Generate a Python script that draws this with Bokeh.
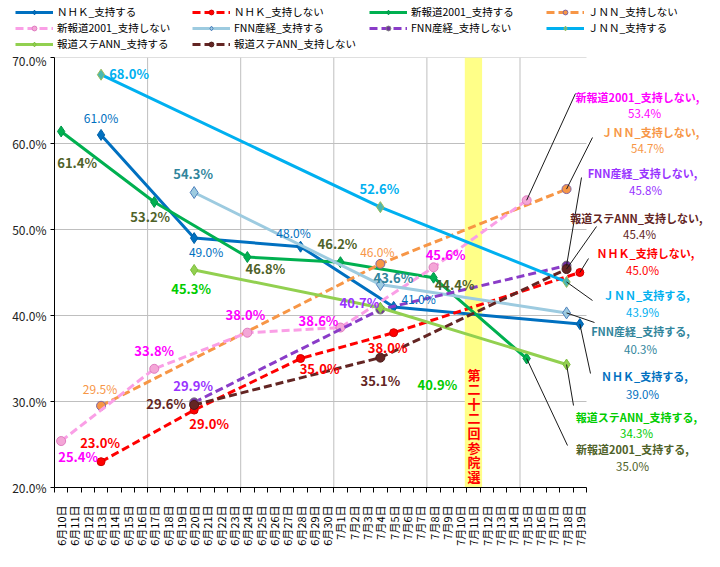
import math
from bokeh.plotting import figure
from bokeh.layouts import column
from bokeh.models import (Range1d, FixedTicker, PrintfTickFormatter, ColumnDataSource,
                          LabelSet, Label, Arrow, Legend, LegendItem, Plot)
from bokeh.embed import file_html
from bokeh.resources import INLINE
from bokeh.core.properties import value

# ---------------- data ----------------
categories = ["6月10日", "6月11日", "6月12日", "6月13日", "6月14日", "6月15日", "6月16日",
              "6月17日", "6月18日", "6月19日", "6月20日", "6月21日", "6月22日", "6月23日",
              "6月24日", "6月25日", "6月26日", "6月27日", "6月28日", "6月29日", "6月30日",
              "7月1日", "7月2日", "7月3日", "7月4日", "7月5日", "7月6日", "7月7日",
              "7月8日", "7月9日", "7月10日", "7月11日", "7月12日", "7月13日", "7月14日",
              "7月15日", "7月16日", "7月17日", "7月18日", "7月19日"]
week_starts = ["6月17日", "6月24日", "7月1日", "7月8日", "7月15日"]
election_day = "7月11日"
election_text = "第\n二\n十\n二\n回\n参\n院\n選"
y_ticks = [20, 30, 40, 50, 60, 70]

dates_nhk = ["6月13日", "6月20日", "6月28日", "7月5日", "7月19日"]
nhk_support = [61.0, 49.0, 48.0, 41.0, 39.0]
nhk_oppose = [23.0, 29.0, 35.0, 38.0, 45.0]

dates_2001 = ["6月10日", "6月17日", "6月24日", "7月1日", "7月8日", "7月15日"]
s2001_support = [61.4, 53.2, 46.8, 46.2, 44.4, 35.0]
s2001_oppose = [25.4, 33.8, 38.0, 38.6, 45.6, 53.4]

dates_jnn = ["6月13日", "7月4日", "7月18日"]
jnn_support = [68.0, 52.6, 43.9]
jnn_oppose = [29.5, 46.0, 54.7]

dates_fnn = ["6月20日", "7月4日", "7月18日"]
fnn_support = [54.3, 43.6, 40.3]
fnn_oppose = [29.9, 40.7, 45.8]

dates_ann = ["6月20日", "7月4日", "7月18日"]
ann_support = [45.3, 40.9, 34.3]
ann_oppose = [29.6, 35.1, 45.4]

FONT = "Noto Sans CJK JP"

# ---------------- styles / layout ----------------
# in-plot label offsets in screen px (right, down); None -> side annotation
# side = (label centre x, y, value centre x, y, leader end x, y) in reference pixels
series = [
    dict(name="ＮＨＫ_支持する", dates=dates_nhk, values=nhk_support, color="#0070C0", dash="solid",
         marker="diamond", size=11, fill="#0070C0", mline="#0060A8", lcolor="#0070C0", bold=False,
         offs=[(0, -17), (12, 13), (-7, -14), (25, -8), None],
         side=(644, 375, 642, 393, 590, 373)),
    dict(name="ＮＨＫ_支持しない", dates=dates_nhk, values=nhk_oppose, color="#FF0000", dash="8 4",
         marker="circle", size=8, fill="#FF0000", mline="#D00000", lcolor="#FF0000", bold=True,
         offs=[(-1, -19), (15, 13), (19, 10), (-6, 15), None],
         side=(645, 252, 642, 269, 588, 258)),
    dict(name="新報道2001_支持する", dates=dates_2001, values=s2001_support, color="#00B050", dash="solid",
         marker="diamond", size=11, fill="#00B050", mline="#00964A", lcolor="#4F6228", bold=True,
         offs=[(16, 31), (-4, 15), (18, 11), (-3, -19), (21, 7), None],
         side=(632, 448, 632, 465, 567, 445)),
    dict(name="ＪＮＮ_支持しない", dates=dates_jnn, values=jnn_oppose, color="#F79646", dash="8 4",
         marker="circle", size=9, fill="#F79646", mline="#8064A2", lcolor="#F79646", bold=False,
         offs=[(-1, -17), (-3, -12), None],
         side=(650, 131, 647, 147, 592, 137)),
    dict(name="新報道2001_支持しない", dates=dates_2001, values=s2001_oppose, color="#FA9FE6", dash="8 4",
         marker="circle", size=9, fill="#F4A6D7", mline="#E07CC0", lcolor="#FF00FF", bold=True,
         offs=[(17, 15), (0, -18), (-2, -18), (-22, -7), (12, -13), None],
         side=(637, 96, 644, 112, 575, 93)),
    dict(name="FNN産経_支持する", dates=dates_fnn, values=fnn_support, color="#9DCBE0", dash="solid",
         marker="diamond", size=12, fill="#9DCBE0", mline="#4F81BD", lcolor="#31859C", bold=True,
         offs=[(-1, -19), (13, -7), None],
         side=(640, 330, 640, 348, 594, 322)),
    dict(name="FNN産経_支持しない", dates=dates_fnn, values=fnn_oppose, color="#8A3CC8", dash="8 4",
         marker="circle", size=9, fill="#7030A0", mline="#808080", lcolor="#9933FF", bold=True,
         offs=[(-1, -17), (-21, -7), None],
         side=(642, 172, 645, 189, 581, 177)),
    dict(name="ＪＮＮ_支持する", dates=dates_jnn, values=jnn_support, color="#00B0F0", dash="solid",
         marker="diamond", size=11, fill="#4BB8B0", mline="#9BBB59", lcolor="#00B0F0", bold=True,
         offs=[(28, -1), (-1, -19), None],
         side=(646, 294, 642, 311, 592, 300)),
    dict(name="報道ステANN_支持する", dates=dates_ann, values=ann_support, color="#92D050", dash="solid",
         marker="diamond", size=11, fill="#92D050", mline="#7FBF3F", lcolor="#00CC00", bold=True,
         offs=[(-3, 19), (57, 77), None],
         side=(636, 416, 636, 432, 573, 405)),
    dict(name="報道ステANN_支持しない", dates=dates_ann, values=ann_oppose, color="#632523", dash="8 4",
         marker="circle", size=9, fill="#632523", mline="#4A1A18", lcolor="#632523", bold=True,
         offs=[(-28, -1), (0, 23), None],
         side=(636, 217, 639, 233, 596, 226)),
]

# page layout (reference pixels)
W, H = 704, 551
LEG_H = 51                      # legend strip height
X0, PXW, Y0, PXH = 54.0, 13.3, 487.0, 8.6   # plot area left / px per category / bottom / px per %
TOP = 57                        # plot area top
HAS_FA = "frame_align" in Plot.properties()


def dxp(X):
    return (X - X0) / PXW - 0.5


def dyp(Y):
    return 20 + (Y0 - Y) / PXH


# ---------------- main figure ----------------
x_lo, x_hi = -0.5, len(categories) - 0.5
p = figure(width=W, height=H - LEG_H, x_range=Range1d(x_lo, dxp(W)),
           y_range=Range1d(y_ticks[0], y_ticks[-1]),
           output_backend="svg", toolbar_location=None,
           min_border_left=int(X0), min_border_right=0, min_border_top=TOP - LEG_H,
           min_border_bottom=int(H - Y0))
p.outline_line_color = None
p.background_fill_color = "white"
p.border_fill_color = "white"
p.xgrid.visible = False
p.ygrid.visible = False

xa = p.xaxis[0]
xa.bounds = (x_lo, x_hi)
xa.ticker = FixedTicker(ticks=list(range(len(categories))),
                        minor_ticks=[i - 0.5 for i in range(len(categories) + 1)])
xa.major_label_overrides = {i: c for i, c in enumerate(categories)}
xa.major_label_orientation = math.pi / 2
xa.major_tick_out = 0
xa.major_tick_in = 0
xa.minor_tick_out = 5
xa.minor_tick_in = 0
xa.minor_tick_line_color = "black"
xa.axis_line_color = "black"
xa.major_label_standoff = 13
xa.major_label_text_font = FONT
xa.major_label_text_font_size = "11px"
xa.major_label_text_color = "black"

ya = p.yaxis[0]
ya.ticker = FixedTicker(ticks=y_ticks)
ya.formatter = PrintfTickFormatter(format="%.1f%%")
ya.major_tick_out = 4
ya.major_tick_in = 0
ya.minor_tick_line_color = None
ya.axis_line_color = "black"
ya.major_tick_line_color = "black"
ya.major_label_standoff = 4
ya.major_label_text_font = FONT
ya.major_label_text_font_size = "12px"
ya.major_label_text_color = "#222222"

# grid lines limited to the category area
gy = y_ticks[1:]
p.segment(x0=[x_lo] * len(gy), x1=[x_hi] * len(gy), y0=gy, y1=gy,
          line_color="#BFBFBF", line_width=1)
gx = [categories.index(w) - 0.5 for w in week_starts]
p.segment(x0=gx, x1=gx, y0=[y_ticks[0]] * len(gx), y1=[y_ticks[-1]] * len(gx),
          line_color="#BFBFBF", line_width=1)

# election band
p.vbar(x=[categories.index(election_day)], width=1.3, bottom=y_ticks[0], top=y_ticks[-1],
       fill_color="#FFFF88", line_color=None)
p.add_layout(Label(x=categories.index(election_day) + 0.05, y=dyp(364), text=election_text,
                   text_align="center", text_baseline="top", text_color="#FF0000",
                   text_font=FONT, text_font_size="13px", text_font_style="bold",
                   text_line_height=0.77))

# ---------------- legend strip ----------------
lp = figure(width=W, height=LEG_H, x_range=Range1d(0, 1), y_range=Range1d(0, 1),
            output_backend="svg", toolbar_location=None,
            x_axis_location=None, y_axis_location=None, min_border=0)
lp.outline_line_color = None
lp.xgrid.visible = False
lp.ygrid.visible = False
lp.background_fill_color = "white"
lp.border_fill_color = "white"
if HAS_FA:
    lp.frame_align = False
    p.frame_align = False

items = []
for s in series:
    xs = [categories.index(d) for d in s["dates"]]
    src = ColumnDataSource(dict(x=xs, y=s["values"]))
    line_kw = dict(line_color=s["color"], line_width=3, line_dash=s["dash"])
    mark_kw = dict(marker=s["marker"], size=s["size"], fill_color=s["fill"],
                   line_color=s["mline"], line_width=1)
    p.line("x", "y", source=src, **line_kw)
    p.scatter("x", "y", source=src, **mark_kw)

    # legend sample renderers in the legend strip (same data, outside its view)
    llr = lp.line("x", "y", source=src, **line_kw)
    lsr = lp.scatter("x", "y", source=src, **mark_kw)
    items.append(LegendItem(label=s["name"], renderers=[llr, lsr]))

    lx, ly, lt, lxo, lyo = [], [], [], [], []
    for x, v, o in zip(xs, s["values"], s["offs"]):
        if o is None:
            continue
        lx.append(x); ly.append(v); lt.append(f"{v:.1f}%")
        lxo.append(o[0]); lyo.append(-o[1])
    lsrc = ColumnDataSource(dict(x=lx, y=ly, text=lt, xo=lxo, yo=lyo))
    p.add_layout(LabelSet(x="x", y="y", text="text", x_offset="xo", y_offset="yo", source=lsrc,
                          text_align="center", text_baseline="middle", text_color=s["lcolor"],
                          text_font=value(FONT),
                          text_font_size="13px" if s["bold"] else "12px",
                          text_font_style="bold" if s["bold"] else "normal"))

    # side annotation for the last point
    cx1, cy1, cx2, cy2, ax, ay = s["side"]
    lastx, lastv = xs[-1], s["values"][-1]
    p.add_layout(Arrow(end=None, x_start=lastx, y_start=lastv, x_end=dxp(ax), y_end=dyp(ay),
                       line_color="#1A1A1A", line_width=1))
    p.add_layout(Label(x=dxp(cx1), y=dyp(cy1), text=s["name"] + ",", text_align="center",
                       text_baseline="middle", text_color=s["lcolor"], text_font=FONT,
                       text_font_size="11px", text_font_style="bold"))
    p.add_layout(Label(x=dxp(cx2), y=dyp(cy2), text=f"{lastv:.1f}%", text_align="center",
                       text_baseline="middle", text_color=s["lcolor"], text_font=FONT,
                       text_font_size="11.5px"))

legend = Legend(items=items, location=(15 if HAS_FA else 15 - X0, 0),
                orientation="horizontal", ncols=4,
                glyph_width=38, glyph_height=12, label_width=134, label_height=12,
                label_standoff=4, spacing=1, padding=0, margin=0,
                border_line_color=None, background_fill_alpha=0,
                label_text_font=FONT, label_text_font_size="10.5px", label_text_color="black")
lp.add_layout(legend)

layout = column(lp, p, spacing=0)
open("out.html", "w").write(file_html(layout, INLINE))
